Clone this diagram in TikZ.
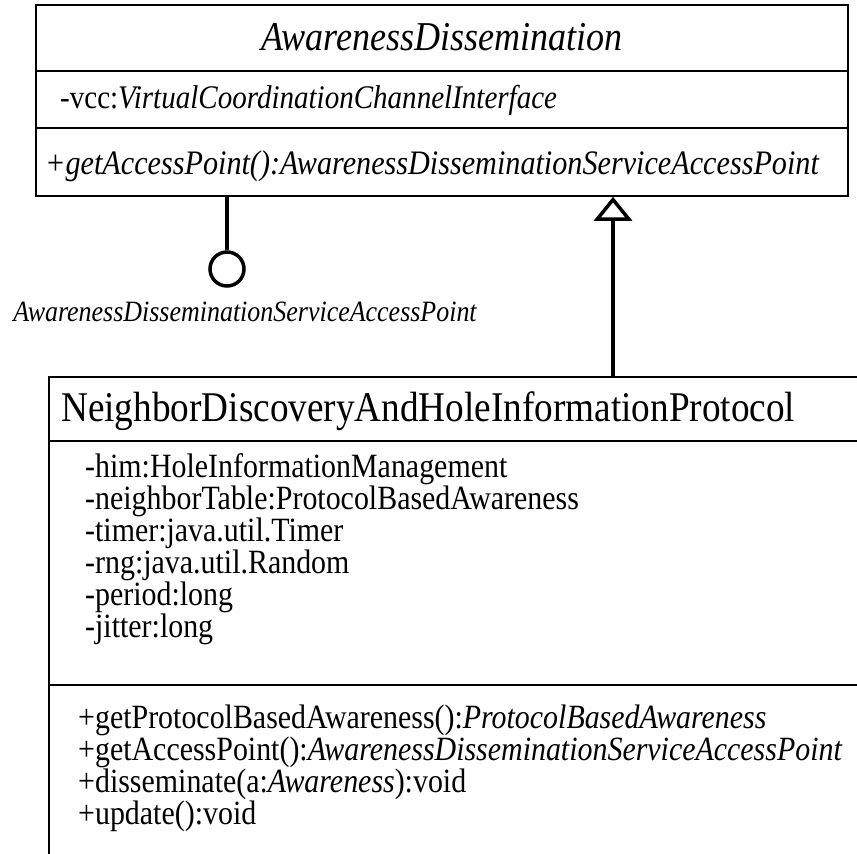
\documentclass[tikz,border=0pt]{standalone}
\usepackage{fontspec}
\setmainfont{Liberation Serif}[FakeStretch=0.88]
\usetikzlibrary{arrows.meta,positioning}

\begin{document}
\begin{tikzpicture}[x=1pt, y=-1pt,
  cls/.style={rectangle, draw=black, line width=1.6pt, inner sep=0pt},
  sep/.style={line width=1.6pt},
  ttl/.style={anchor=base west, inner sep=0pt, font=\fontsize{42.3}{42}\selectfont},
  mbr/.style={anchor=base west, inner sep=0pt, font=\fontsize{34}{34}\selectfont},
  lbl/.style={anchor=base, inner sep=0pt, font=\fontsize{29.5}{30}\selectfont\itshape},
  iface/.style={circle, draw=black, line width=3.5pt, minimum size=34pt, inner sep=0pt},
  conn/.style={line width=3.5pt},
  gen/.style={line width=3.5pt, -{Triangle[open, length=24pt, width=38pt]}},
]
\useasboundingbox (0,0) rectangle (857,854);
\clip (0,0) rectangle (857,854);

%% AwarenessDissemination
\node[cls, minimum width=812pt, minimum height=191pt] (ad) at (442,100.5) {};
\draw[sep] (ad.west |- 0,71) -- (ad.east |- 0,71);
\draw[sep] (ad.west |- 0,128) -- (ad.east |- 0,128);
\node[ttl, anchor=base, font=\fontsize{41}{41}\selectfont\itshape] (adname) at (442,50) {AwarenessDissemination};
\node[mbr, font=\fontsize{33}{33}\selectfont] (advcc) at (60,108) {-vcc:\textit{VirtualCoordinationChannelInterface}};
\node[mbr, font=\fontsize{34.3}{34}\selectfont] (adget) at (45,174) {\textit{+getAccessPoint():AwarenessDisseminationServiceAccessPoint}};

%% provided interface
\node[iface] (sap) at (227,269) {};
\node[lbl] (saplbl) at (245,321) {AwarenessDisseminationServiceAccessPoint};
\draw[conn] (sap.north) -- (sap.north |- ad.south);

%% NeighborDiscoveryAndHoleInformationProtocol
\node[cls, minimum width=840pt, minimum height=520pt, anchor=north west] (ndp) at (48,376) {};
\draw[sep] (ndp.west |- 0,441) -- (ndp.east |- 0,441);
\draw[sep] (ndp.west |- 0,685) -- (ndp.east |- 0,685);
\node[ttl] (ndpname) at (61,421) {NeighborDiscoveryAndHoleInformationProtocol};
\node[mbr] (a1) at (85,477) {-him:HoleInformationManagement};
\node[mbr] (a2) at (85,509) {-neighborTable:ProtocolBasedAwareness};
\node[mbr] (a3) at (85,541) {-timer:java.util.Timer};
\node[mbr] (a4) at (85,573) {-rng:java.util.Random};
\node[mbr] (a5) at (85,605) {-period:long};
\node[mbr] (a6) at (85,637) {-jitter:long};
\node[mbr] (m1) at (78,728) {+getProtocolBasedAwareness():\textit{ProtocolBasedAwareness}};
\node[mbr] (m2) at (78,760) {+getAccessPoint():\textit{AwarenessDisseminationServiceAccessPoint}};
\node[mbr] (m3) at (78,792) {+disseminate(a:\textit{Awareness}):void};
\node[mbr] (m4) at (78,824) {+update():void};

%% generalization
\coordinate (gbot) at (613,376);
\draw[gen] (gbot) -- (gbot |- ad.south);

\end{tikzpicture}
\end{document}
